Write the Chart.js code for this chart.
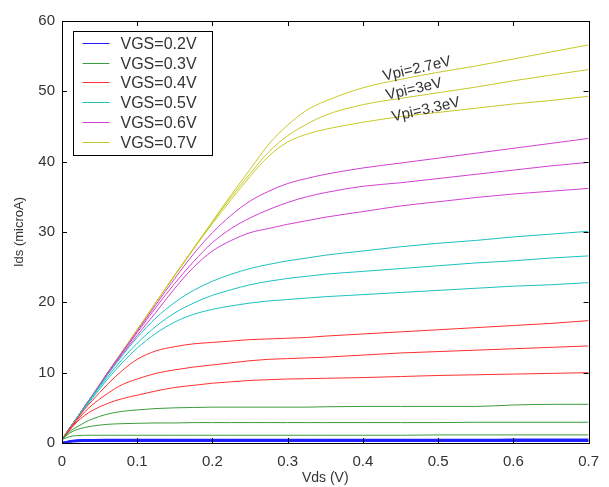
<!DOCTYPE html>
<html>
<head>
<meta charset="utf-8">
<title>Ids vs Vds</title>
<script src="https://cdn.jsdelivr.net/npm/chart.js@4.4.1/dist/chart.umd.min.js"></script>
<style>
    html, body { margin: 0; padding: 0; background: #fff; }
    canvas { display: block; }
</style>
</head>
<body>
<canvas id="ivChart" width="609" height="487"></canvas>
<script>
// Drain voltage samples (V)
const vds = [0, 0.01, 0.02, 0.03, 0.04, 0.06, 0.08, 0.1, 0.125, 0.15, 0.175, 0.2, 0.225, 0.25,
    0.275, 0.3, 0.325, 0.35, 0.4, 0.45, 0.5, 0.55, 0.6, 0.65, 0.7];

const vgsLabels = ['VGS=0.2V', 'VGS=0.3V', 'VGS=0.4V', 'VGS=0.5V', 'VGS=0.6V', 'VGS=0.7V'];

// Ids (microA), three curves per VGS: Vpi = 2.7, 3, 3.3 eV
const blue27 = [0, 0.25, 0.38, 0.42, 0.44, 0.45, 0.45, 0.45, 0.45, 0.45, 0.45, 0.46, 0.46, 0.46, 0.46, 0.46, 0.46, 0.46, 0.47, 0.47, 0.47, 0.47, 0.48, 0.48, 0.48];
const blue30 = [0, 0.22, 0.32, 0.35, 0.36, 0.36, 0.36, 0.36, 0.36, 0.36, 0.36, 0.36, 0.37, 0.37, 0.37, 0.37, 0.37, 0.37, 0.37, 0.37, 0.37, 0.37, 0.37, 0.37, 0.37];
const blue33 = [0, 0.18, 0.25, 0.27, 0.28, 0.28, 0.28, 0.28, 0.28, 0.28, 0.28, 0.28, 0.28, 0.28, 0.28, 0.28, 0.28, 0.28, 0.29, 0.29, 0.29, 0.29, 0.29, 0.29, 0.29];

const green27 = [0.5, 1.6, 2.3, 2.9, 3.4, 4.1, 4.5, 4.7, 4.9, 5.0, 5.05, 5.1, 5.1, 5.1, 5.1, 5.1, 5.1, 5.15, 5.2, 5.2, 5.2, 5.2, 5.4, 5.5, 5.5];
const green30 = [0.5, 1.4, 1.9, 2.2, 2.4, 2.65, 2.75, 2.8, 2.85, 2.85, 2.9, 2.9, 2.9, 2.9, 2.9, 2.9, 2.9, 2.9, 2.9, 2.9, 2.9, 2.95, 2.95, 2.95, 2.95];
const green33 = [0.5, 0.9, 1.05, 1.1, 1.1, 1.1, 1.1, 1.1, 1.1, 1.1, 1.1, 1.1, 1.1, 1.1, 1.1, 1.1, 1.1, 1.1, 1.1, 1.1, 1.15, 1.15, 1.15, 1.15, 1.15];

const red27 = [0.5, 2.0, 3.4, 4.8, 6.0, 8.3, 10.3, 11.9, 13.1, 13.7, 14.1, 14.3, 14.5, 14.7, 14.8, 14.9, 15.0, 15.2, 15.5, 15.8, 16.1, 16.4, 16.7, 17.0, 17.4];
const red30 = [0.5, 1.9, 3.2, 4.4, 5.4, 7.0, 8.3, 9.1, 9.9, 10.4, 10.8, 11.1, 11.4, 11.7, 11.9, 12.0, 12.1, 12.2, 12.5, 12.8, 13.0, 13.2, 13.4, 13.6, 13.8];
const red33 = [0.5, 1.8, 3.0, 3.9, 4.6, 5.6, 6.3, 6.8, 7.4, 7.9, 8.2, 8.5, 8.7, 8.9, 9.0, 9.1, 9.15, 9.2, 9.3, 9.45, 9.6, 9.7, 9.8, 9.9, 10.0];

const cyan27 = [0.5, 2.1, 3.6, 5.1, 6.6, 9.6, 12.4, 15.0, 17.8, 20.0, 21.7, 23.0, 24.0, 24.8, 25.4, 25.9, 26.3, 26.7, 27.3, 27.9, 28.4, 28.8, 29.3, 29.7, 30.1];
const cyan30 = [0.5, 2.1, 3.6, 5.0, 6.5, 9.3, 11.9, 14.2, 16.6, 18.5, 19.9, 21.0, 21.8, 22.5, 23.0, 23.4, 23.7, 24.0, 24.4, 24.8, 25.2, 25.6, 25.9, 26.3, 26.6];
const cyan33 = [0.5, 2.0, 3.5, 4.9, 6.3, 9.0, 11.4, 13.5, 15.6, 17.2, 18.3, 19.0, 19.5, 19.9, 20.2, 20.4, 20.6, 20.8, 21.1, 21.4, 21.7, 22.0, 22.3, 22.5, 22.8];

const magenta27 = [0.5, 2.1, 3.6, 5.2, 6.7, 9.9, 12.9, 15.9, 19.7, 23.4, 26.9, 29.9, 32.4, 34.4, 35.8, 36.9, 37.6, 38.2, 39.1, 39.8, 40.5, 41.2, 41.9, 42.6, 43.3];
const magenta30 = [0.5, 2.1, 3.6, 5.2, 6.7, 9.8, 12.8, 15.7, 19.3, 22.7, 25.8, 28.5, 30.5, 32.0, 33.2, 34.2, 35.0, 35.6, 36.5, 37.0, 37.6, 38.2, 38.8, 39.4, 39.9];
const magenta33 = [0.5, 2.1, 3.6, 5.1, 6.6, 9.7, 12.6, 15.3, 18.6, 22.0, 25.0, 27.3, 28.8, 29.9, 30.5, 31.1, 31.6, 32.1, 32.9, 33.7, 34.3, 34.9, 35.4, 35.8, 36.2];

const yellow27 = [0.5, 2.1, 3.6, 5.2, 6.7, 9.9, 13.0, 16.1, 20.0, 23.9, 27.7, 31.5, 35.3, 38.9, 42.5, 45.2, 47.3, 48.6, 50.5, 51.7, 52.7, 53.6, 54.6, 55.6, 56.6];
const yellow30 = [0.5, 2.1, 3.6, 5.2, 6.7, 9.9, 13.0, 16.1, 20.0, 23.9, 27.7, 31.4, 35.0, 38.3, 41.4, 43.7, 45.3, 46.6, 48.1, 49.0, 49.8, 50.6, 51.5, 52.3, 53.1];
const yellow33 = [0.5, 2.1, 3.6, 5.2, 6.7, 9.9, 13.0, 16.1, 20.0, 23.8, 27.6, 31.2, 34.6, 37.9, 40.8, 42.8, 43.9, 44.6, 45.6, 46.4, 47.0, 47.6, 48.2, 48.7, 49.3];

const xTickValues = [0, 0.1, 0.2, 0.3, 0.4, 0.5, 0.6, 0.7];
const xTickLabels = ['0', '0.1', '0.2', '0.3', '0.4', '0.5', '0.6', '0.7'];
const yTickValues = [0, 10, 20, 30, 40, 50, 60];
const yTickLabels = ['0', '10', '20', '30', '40', '50', '60'];

const vpiLabels = ['Vpi=2.7eV', 'Vpi=3eV', 'Vpi=3.3eV'];

// --- styling / layout below ---
const COLORS = ['#2020ff', '#3c9c3c', '#ff3030', '#20c0c0', '#d040d0', '#c8c828'];
const FONT = '"Liberation Sans", Arial, sans-serif';
const TEXT_COLOR = '#333';

const groups = [
    [blue27, blue30, blue33],
    [green27, green30, green33],
    [red27, red30, red33],
    [cyan27, cyan30, cyan33],
    [magenta27, magenta30, magenta33],
    [yellow27, yellow30, yellow33]
];

// label anchors in data units (left end of text baseline)
const vpiAnchors = [
    { x: 0.428, y: 51.5 },
    { x: 0.432, y: 48.8 },
    { x: 0.440, y: 45.7 }
];

const datasets = [];
groups.forEach((curves, g) => {
    curves.forEach((ids, k) => {
        datasets.push({
            label: vgsLabels[g] + ' ' + vpiLabels[k],
            data: vds.map((v, i) => ({ x: v, y: ids[i] })),
            borderColor: COLORS[g],
            borderWidth: g === 0 ? 2 : 1,
            pointRadius: 0,
            fill: false,
            cubicInterpolationMode: 'monotone'
        });
    });
});

// Box round the plot with MATLAB-style inward ticks on all four sides
const frameTicks = {
    id: 'frameTicks',
    afterDatasetsDraw(chart) {
        const { ctx, chartArea: a, scales: { x, y } } = chart;
        ctx.save();
        ctx.strokeStyle = '#000';
        ctx.lineWidth = 1;
        ctx.strokeRect(Math.round(a.left) + 0.5, Math.round(a.top) + 0.5,
            Math.round(a.right - a.left), Math.round(a.bottom - a.top));
        ctx.beginPath();
        xTickValues.forEach(v => {
            const px = Math.round(x.getPixelForValue(v)) + 0.5;
            ctx.moveTo(px, a.bottom); ctx.lineTo(px, a.bottom - 5);
            ctx.moveTo(px, a.top); ctx.lineTo(px, a.top + 5);
        });
        yTickValues.forEach(v => {
            const py = Math.round(y.getPixelForValue(v)) + 0.5;
            ctx.moveTo(a.left, py); ctx.lineTo(a.left + 5, py);
            ctx.moveTo(a.right, py); ctx.lineTo(a.right - 5, py);
        });
        ctx.stroke();
        ctx.restore();
    }
};

// Legend box inside the plot, one entry per VGS
const boxLegend = {
    id: 'boxLegend',
    afterDraw(chart) {
        const { ctx, chartArea: a } = chart;
        const left = a.left + 11.5, top = a.top + 10.5, w = 139, h = 124;
        ctx.save();
        ctx.fillStyle = '#fff';
        ctx.fillRect(left, top, w, h);
        ctx.strokeStyle = '#000';
        ctx.lineWidth = 1;
        ctx.strokeRect(left, top, w, h);
        ctx.font = '16px ' + FONT;
        ctx.textBaseline = 'middle';
        vgsLabels.forEach((label, i) => {
            const rowY = Math.round(top + 11.5 + i * 19.7) + 0.5;
            ctx.strokeStyle = COLORS[i];
            ctx.beginPath();
            ctx.moveTo(left + 9, rowY);
            ctx.lineTo(left + 36, rowY);
            ctx.stroke();
            ctx.fillStyle = TEXT_COLOR;
            ctx.fillText(label, left + 47, rowY + 1);
        });
        ctx.restore();
    }
};

// Slanted Vpi labels next to the yellow curves
const vpiNotes = {
    id: 'vpiNotes',
    afterDraw(chart) {
        const { ctx, scales: { x, y } } = chart;
        ctx.save();
        ctx.font = '15px ' + FONT;
        ctx.fillStyle = TEXT_COLOR;
        ctx.textBaseline = 'alphabetic';
        vpiLabels.forEach((text, i) => {
            const px = x.getPixelForValue(vpiAnchors[i].x);
            const py = y.getPixelForValue(vpiAnchors[i].y);
            ctx.save();
            ctx.translate(px, py);
            ctx.rotate(-0.225);
            ctx.fillText(text, 0, 0);
            ctx.restore();
        });
        ctx.restore();
    }
};

const tickFont = { family: FONT, size: 15 };

new Chart(document.getElementById('ivChart'), {
    type: 'line',
    data: { datasets },
    options: {
        responsive: false,
        animation: false,
        layout: { padding: { left: 0, right: 11, top: 21, bottom: 0 } },
        plugins: {
            legend: { display: false },
            tooltip: { enabled: false }
        },
        scales: {
            x: {
                type: 'linear',
                min: 0,
                max: 0.7,
                afterFit: (s) => { s.height = 44; },
                afterBuildTicks: (s) => { s.ticks = xTickValues.map(v => ({ value: v })); },
                grid: { display: false, drawTicks: false },
                border: { display: false },
                ticks: {
                    padding: 10,
                    color: TEXT_COLOR,
                    font: tickFont,
                    maxRotation: 0,
                    callback: (v, i) => xTickLabels[i]
                },
                title: {
                    display: true,
                    text: 'Vds (V)',
                    color: TEXT_COLOR,
                    font: { family: FONT, size: 14 },
                    padding: 0
                }
            },
            y: {
                type: 'linear',
                min: 0,
                max: 60,
                afterFit: (s) => { s.width = 62; },
                afterBuildTicks: (s) => { s.ticks = yTickValues.map(v => ({ value: v })); },
                grid: { display: false, drawTicks: false },
                border: { display: false },
                ticks: {
                    padding: 7,
                    color: TEXT_COLOR,
                    font: tickFont,
                    callback: (v, i) => yTickLabels[i]
                },
                title: {
                    display: true,
                    text: 'Ids (microA)',
                    color: TEXT_COLOR,
                    font: { family: FONT, size: 13 },
                    padding: { top: 12, bottom: 0 }
                }
            }
        }
    },
    plugins: [frameTicks, boxLegend, vpiNotes]
});
</script>
</body>
</html>
